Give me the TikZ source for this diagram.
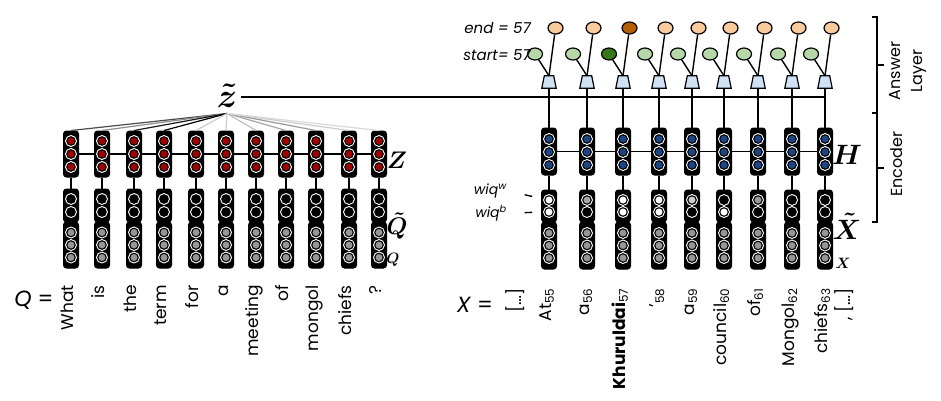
\RequirePackage{fix-cm}
\documentclass[tikz,border=0pt]{standalone}
\usepackage{fontspec}
\setsansfont{Poppins}
\usetikzlibrary{positioning, shapes.geometric, backgrounds, calc}

\definecolor{zred}{RGB}{160,0,0}
\definecolor{hblue}{RGB}{28,69,135}
\definecolor{embgray}{RGB}{150,150,150}
\definecolor{projblue}{RGB}{207,226,243}
\definecolor{startgreen}{RGB}{182,215,168}
\definecolor{startgreendk}{RGB}{56,118,29}
\definecolor{endorange}{RGB}{249,203,156}
\definecolor{endorangedk}{RGB}{180,95,6}

\begin{document}
\begin{tikzpicture}[x=1pt, y=-1pt,
  vecbox/.style={draw, fill=black, rounded corners=3pt, line width=1pt,
                 minimum width=15pt, inner sep=0pt},
  neuron/.style={circle, inner sep=0pt, minimum size=8.5pt, fill=#1, draw=black,
                 line width=1.1pt, preaction={draw=white, line width=3.2pt}},
  proj/.style={rectangle, minimum width=14pt, minimum height=12pt, inner sep=0pt},
  ansnode/.style={ellipse, draw, line width=1.2pt, fill=#1, minimum width=15pt,
                  minimum height=12pt, inner sep=0pt},
  tok/.style={rotate=90, anchor=mid east, inner sep=0pt,
              font=\sffamily\fontsize{17}{17}\selectfont},
  wire/.style={line width=1.4pt},
  attn/.style={line width=1.2pt},
  lbl/.style={font=\sffamily\itshape\fontsize{#1}{#1}\selectfont, inner sep=0pt},
  sym/.style={font=\boldmath\fontsize{#1}{#1}\selectfont, inner sep=0pt}]
  \useasboundingbox (0,0) rectangle (941,400);

  % question side
  \node[sym=34, inner xsep=4pt, inner ysep=6pt] (zt) at (227,95.5) {$\tilde{z}$};
  \foreach \x/\w/\c [count=\i] in {71/What/black!70, 102/is/black!45, 134/the/black!90,
      164/term/black, 196/for/black!20, 226/a/black!20, 256/meeting/black!25,
      286/of/black!35, 316/mongol/black!40, 349/chiefs/black!20, 379/?/black!15} {
    \node[vecbox, minimum height=46pt] (z\i) at (\x,154) {};
    \node[vecbox, minimum height=46pt] (q\i) at (\x,245) {};
    \node[vecbox, minimum height=33pt] (qt\i) at (\x,205.5) {};
    \foreach \y [count=\j] in {141,154,167} \node[neuron=zred] (z\i-\j) at (\x,\y) {};
    \foreach \y [count=\j] in {199,212} \node[neuron=black] (qt\i-\j) at (\x,\y) {};
    \foreach \y [count=\j] in {232.5,245,257.5} \node[neuron=embgray] (q\i-\j) at (\x,\y) {};
    \draw[wire] (z\i) -- (qt\i);
    \draw[attn, draw=\c] (zt.south) -- (z\i.north);
    \node[tok] (qw\i) at (\x,285) {\w};
  }
  \node[sym=24] (zlbl) at (397,160) {$Z$};
  \node[sym=24] (qtlbl) at (397,226) {$\tilde{Q}$};
  \node[sym=15] (qlbl) at (393,260) {$Q$};
  \node[font=\sffamily\fontsize{22}{22}\selectfont, inner sep=0pt] (qeq) at (34,300) {\textit{Q} =};

  % context side
  \foreach \x/\w/\t/\b [count=\i] in {549/{At\textsubscript{55}}/white/white,
      587/{a\textsubscript{56}}/black!35/black,
      623/{\textbf{Khuruldai}\textsubscript{57}}/white/white,
      659/{’\textsubscript{58}}/white/white,
      692/{a\textsubscript{59}}/black!20/black,
      724/{council\textsubscript{60}}/black/white,
      758/{of\textsubscript{61}}/black!40/black,
      792/{Mongol\textsubscript{62}}/black/black,
      825/{chiefs\textsubscript{63}}/black/black} {
    \ifnum\i=3 \def\stc{startgreendk}\def\enc{endorangedk}\else\def\stc{startgreen}\def\enc{endorange}\fi
    \node[vecbox, minimum height=47pt] (h\i) at (\x,151.5) {};
    \node[vecbox, minimum height=47pt] (x\i) at (\x,245.5) {};
    \node[vecbox, minimum height=32pt] (xt\i) at (\x,206) {};
    \foreach \y [count=\j] in {139,152,165} \node[neuron=hblue] (h\i-\j) at (\x,\y) {};
    \node[neuron=\t] (xt\i-1) at (\x,200) {};
    \node[neuron=\b] (xt\i-2) at (\x,212) {};
    \foreach \y [count=\j] in {233,245.5,258} \node[neuron=embgray] (x\i-\j) at (\x,\y) {};
    \node[proj] (t\i) at (\x,82) {};
    \draw[line width=1.2pt, fill=projblue] (t\i.south west) -- (t\i.south east)
      -- ([xshift=-2.5pt]t\i.north east) -- ([xshift=2.5pt]t\i.north west) -- cycle;
    \node[ansnode=\stc] (s\i) at (\x-14,54) {};
    \node[ansnode=\enc] (e\i) at (\x+6.5,28) {};
    \draw[wire] (h\i) -- (xt\i);
    \draw[wire] (h\i.north) -- (t\i.south);
    \draw[wire] (t\i.north) -- (s\i);
    \draw[wire] (t\i.north) -- (e\i);
    \node[tok] (xw\i) at (\x,288) {\w};
  }
  \node[tok] (xw0) at (519,288) {[…]};
  \node[tok] (xw10) at (848,288) {, […]};
  \node[font=\sffamily\fontsize{22}{22}\selectfont, inner sep=0pt] (xeq) at (475,305) {\textit{X} =};

  \node[sym=28] (hlbl) at (847,155) {$H$};
  \node[sym=28] (xtlbl) at (847,226) {$\tilde{X}$};
  \node[sym=15] (xlbl) at (843,263) {$X$};

  \node[lbl=15, anchor=east] (endlbl) at (531,28) {end = 57};
  \node[lbl=15, anchor=east] (startlbl) at (531,55) {start= 57};
  \node[lbl=14, anchor=east] (wiqw) at (507,191) {wiq\textsuperscript{w}};
  \node[lbl=14, anchor=east] (wiqb) at (507,213) {wiq\textsuperscript{b}};
  \draw[wire] ($(wiqw.east)!0.42!(xt1-1.center)$) -- ($(wiqw.east)!0.6!(xt1-1.center)$);
  \draw[wire] ($(wiqb.east)!0.42!(xt1-2.center)$) -- ($(wiqb.east)!0.6!(xt1-2.center)$);

  \begin{scope}[on background layer]
    \draw[wire] (z1.center) -- (z11.center);
    \draw[wire] (h1.center) -- (h9.center);
    \draw[wire] ([yshift=-1.5pt]zt.east) -- ([yshift=-1.5pt]zt.east -| t9);
  \end{scope}

  % layer brackets
  \draw[line width=1.8pt] (872,17) -- (877,17) -- (877,222) -- (872,222);
  \draw[line width=1.8pt] (872,113) -- (877,113);
  \draw[line width=1.8pt] (877,65) -- (884,65);
  \draw[line width=1.8pt] (877,168) -- (884,168);
  \node[rotate=90, align=center, inner sep=0pt,
        font=\sffamily\fontsize{16}{22}\selectfont] (anslbl) at (908.5,71) {Answer\\Layer};
  \node[rotate=90, inner sep=0pt,
        font=\sffamily\fontsize{16}{22}\selectfont] (enclbl) at (897,164) {Encoder};
\end{tikzpicture}
\end{document}
